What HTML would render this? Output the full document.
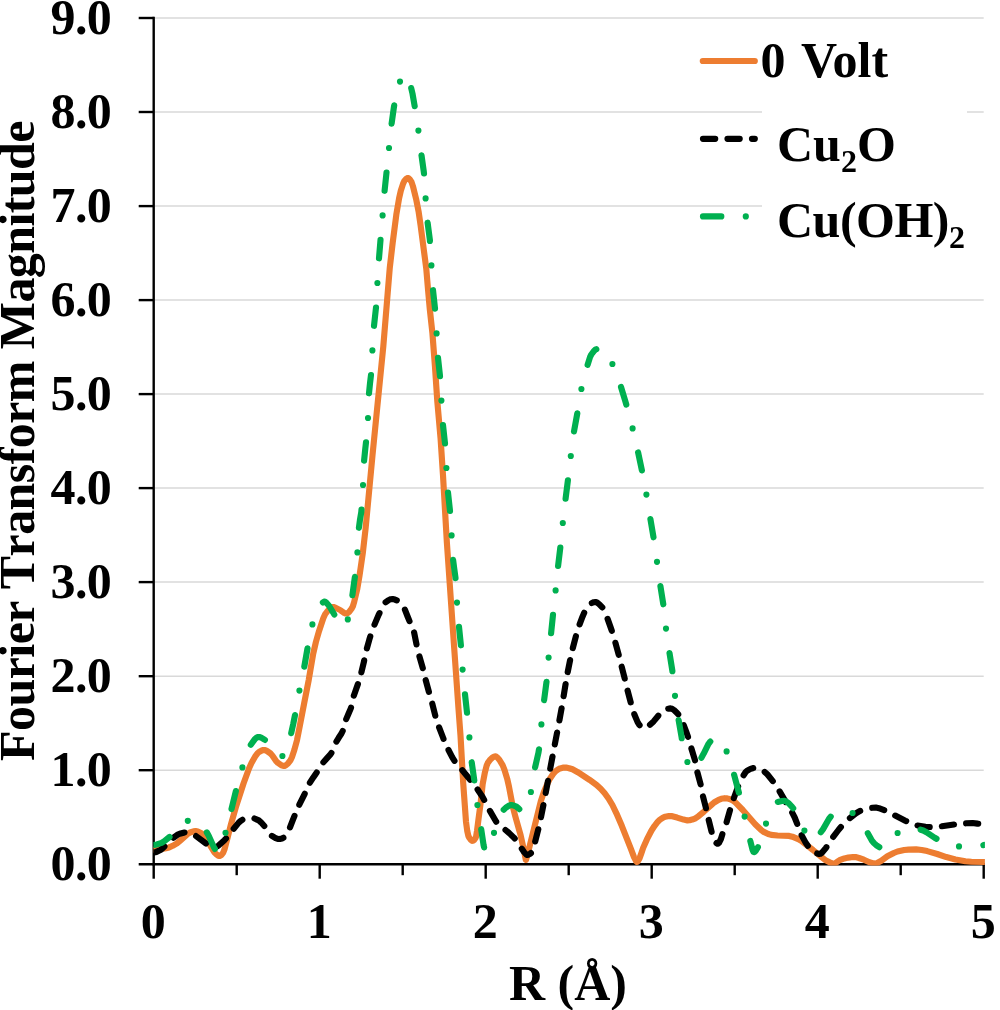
<!DOCTYPE html><html><head><meta charset="utf-8"><title>EXAFS Fourier Transform</title>
<style>html,body{margin:0;padding:0;background:#fff}svg{display:block}text{font-family:"Liberation Serif","DejaVu Serif",serif;font-weight:bold;fill:#000}</style></head><body>
<svg width="1000" height="1010" viewBox="0 0 1000 1010">
<rect width="1000" height="1010" fill="#fff"/>
<line x1="154.7" y1="770.2" x2="983.7" y2="770.2" stroke="#d9d9d9" stroke-width="1.5"/>
<line x1="154.7" y1="676.2" x2="983.7" y2="676.2" stroke="#d9d9d9" stroke-width="1.5"/>
<line x1="154.7" y1="582.1" x2="983.7" y2="582.1" stroke="#d9d9d9" stroke-width="1.5"/>
<line x1="154.7" y1="488.1" x2="983.7" y2="488.1" stroke="#d9d9d9" stroke-width="1.5"/>
<line x1="154.7" y1="394.1" x2="983.7" y2="394.1" stroke="#d9d9d9" stroke-width="1.5"/>
<line x1="154.7" y1="300.1" x2="983.7" y2="300.1" stroke="#d9d9d9" stroke-width="1.5"/>
<line x1="154.7" y1="206.1" x2="983.7" y2="206.1" stroke="#d9d9d9" stroke-width="1.5"/>
<line x1="154.7" y1="112.0" x2="983.7" y2="112.0" stroke="#d9d9d9" stroke-width="1.5"/>
<line x1="154.7" y1="18.0" x2="983.7" y2="18.0" stroke="#d9d9d9" stroke-width="1.5"/>
<line x1="153.7" y1="16.8" x2="153.7" y2="865.4" stroke="#000" stroke-width="2.4"/>
<line x1="138.7" y1="864.2" x2="984.9" y2="864.2" stroke="#000" stroke-width="2.4"/>
<line x1="138.7" y1="770.2" x2="153.7" y2="770.2" stroke="#000" stroke-width="2.4"/>
<line x1="138.7" y1="676.2" x2="153.7" y2="676.2" stroke="#000" stroke-width="2.4"/>
<line x1="138.7" y1="582.1" x2="153.7" y2="582.1" stroke="#000" stroke-width="2.4"/>
<line x1="138.7" y1="488.1" x2="153.7" y2="488.1" stroke="#000" stroke-width="2.4"/>
<line x1="138.7" y1="394.1" x2="153.7" y2="394.1" stroke="#000" stroke-width="2.4"/>
<line x1="138.7" y1="300.1" x2="153.7" y2="300.1" stroke="#000" stroke-width="2.4"/>
<line x1="138.7" y1="206.1" x2="153.7" y2="206.1" stroke="#000" stroke-width="2.4"/>
<line x1="138.7" y1="112.0" x2="153.7" y2="112.0" stroke="#000" stroke-width="2.4"/>
<line x1="138.7" y1="18.0" x2="153.7" y2="18.0" stroke="#000" stroke-width="2.4"/>
<line x1="153.7" y1="864.2" x2="153.7" y2="878.7" stroke="#000" stroke-width="2.4"/>
<line x1="236.7" y1="864.2" x2="236.7" y2="875.2" stroke="#000" stroke-width="2.4"/>
<line x1="319.7" y1="864.2" x2="319.7" y2="878.7" stroke="#000" stroke-width="2.4"/>
<line x1="402.7" y1="864.2" x2="402.7" y2="875.2" stroke="#000" stroke-width="2.4"/>
<line x1="485.7" y1="864.2" x2="485.7" y2="878.7" stroke="#000" stroke-width="2.4"/>
<line x1="568.7" y1="864.2" x2="568.7" y2="875.2" stroke="#000" stroke-width="2.4"/>
<line x1="651.7" y1="864.2" x2="651.7" y2="878.7" stroke="#000" stroke-width="2.4"/>
<line x1="734.7" y1="864.2" x2="734.7" y2="875.2" stroke="#000" stroke-width="2.4"/>
<line x1="817.7" y1="864.2" x2="817.7" y2="878.7" stroke="#000" stroke-width="2.4"/>
<line x1="900.7" y1="864.2" x2="900.7" y2="875.2" stroke="#000" stroke-width="2.4"/>
<line x1="983.7" y1="864.2" x2="983.7" y2="878.7" stroke="#000" stroke-width="2.4"/>
<clipPath id="plot"><rect x="153.4" y="0" width="831.5" height="865.6"/></clipPath>
<g clip-path="url(#plot)">
<path d="M153.7 849.7L158.9 849.4L166 848.2L169.1 847.4L172.7 845.8L176.9 843.4L180.5 840.3L188 833.7L190.1 832.5L193.5 831.3L195.5 831.1L197.8 831.6L201.5 833.3L203.3 834.8L206.4 838.5L208.7 842.7L211.2 847.2L214.4 852.3L216 854L218.3 855.7L219.5 856L220.2 855.8L221.5 854.9L223.2 852.7L224.4 849.7L227.4 838.5L231.1 823.8L236.3 805.7L243.6 783.2L249.1 768.2L251.6 762.8L255.6 755.8L257.5 753.3L259 752L261.8 750.5L263.4 750L265 750.1L266.8 750.9L270.4 753.4L272.3 755.5L276.4 761.4L277.8 762.8L281.4 765.3L283.3 765.9L284.5 766L285.9 765.3L287.7 763.7L290.5 760.3L292 757L294.4 749.8L297 740.2L300 724.9L304.1 703.7L308.7 680.1L313.2 653.7L315.9 642L319 631.2L323.3 618.3L325.1 614.3L327 611.7L329.6 608.7L331.2 607.5L332.3 607.1L333.5 607L335.4 607.6L340.7 610.4L344.3 613L345.4 613.5L346.5 613.5L347.6 613.1L349.2 611.8L351.6 608.6L352.8 606.5L354.2 601.9L357.3 588.7L359.5 575.7L362.8 553.1L365.6 528.5L372.5 455.2L383.3 346.5L387.7 293.1L389.8 267.6L392.7 242.6L396.3 214.8L399.1 198.3L400.8 190.8L403.1 183.6L404.5 180.7L405.8 179.2L407 178.3L407.8 178L408.6 178.2L409.7 179.2L411.5 181.9L412.9 186.1L416.1 198.9L418.7 212.2L420.7 226.1L426.3 268.9L428.2 291.6L429.8 309.1L432.4 333L435 366.9L437.3 401.2L440.6 438.7L443 475.4L446.9 542.9L453.9 643.9L458.6 710.1L460.5 735.6L463.2 783.1L466 821.8L467.3 831.3L468.4 836L469.3 837.8L470.7 839.7L471.6 840.5L472.4 840.8L473.1 840.7L474.1 840L475.5 838L476.1 836.6L477 831L478.5 819.1L480.6 803.3L482.7 783.8L484.9 772.4L486.6 765.8L487.8 762.9L490.4 759.4L492.5 757.4L493.9 756.7L495 756.4L496.2 756.6L497.5 757.6L499.5 760L502.6 765.1L504.4 769.6L507.2 778.8L508.9 786.2L512.7 806.2L515.2 815.9L520.6 835.2L523.7 849.2L525.8 859.8L526 859.9L527.3 855.2L529.5 846.7L541 800.6L543.8 792.2L547.2 784.1L549.9 778.7L553.3 773.7L555.4 771.4L558.3 769.2L560.1 768.4L563.6 767.6L566 767.5L569.1 768.2L572.5 769.3L577.8 772.2L589.5 779.8L596.6 785L600.7 788.8L604.7 793.3L608.5 798.5L612.4 805L616.4 813.3L621.8 825.8L630.9 848.8L634 857.1L636.2 861.3L636.7 861.9L637.1 862L637.7 861.5L639.5 858.4L641.4 853.1L643.2 847.8L646.9 839.4L651.5 830.5L654.6 825.8L657.8 821.7L659.8 819.8L663.1 817.6L665.3 816.7L668.9 816L671.3 816.1L677.1 817.6L683.6 819.6L687.5 820.4L689.5 820.3L692.2 819.6L695.5 818.3L698.5 816.2L703.7 811.8L711.7 804.6L714.1 802.5L718.6 799.8L721.2 798.8L724.7 798.2L727.1 798.4L730.2 799.3L733.1 800.6L735.6 802.6L742.8 810L755.2 824.2L761.2 830L763.8 831.9L768.2 834L771.2 834.9L777.6 835.5L789.2 835.9L792.3 836.7L798.2 839.1L801.3 840.9L813 850L821.9 857.4L825.4 860.1L829.6 862.3L832.2 863.4L834.2 863.6L835.3 863.2L837.6 861.6L839.6 860.2L844.4 858.4L848.3 857.6L853.1 857L855.5 857.1L859 858L863.9 859.7L869.4 862.2L873.6 863.4L875.2 863.6L876.7 863.2L881.3 860.8L887.4 856.3L893.8 853L897.5 851.5L904.2 850L908.5 849.6L916.1 849.4L921.7 850L927.2 851.1L937.2 854L946.3 857.1L955.5 859.5L965.4 861.2L971.4 861.7L984 862" fill="none" stroke="#ED7D31" stroke-width="6.15" stroke-linecap="round" stroke-linejoin="round"/>
<path d="M153.7 852.6L156.4 851.9L160.4 850L162.8 848.1L164.4 846.5M173.4 837.7L177.2 834.9L179.7 833.8L183.6 832.7L184.5 832.5M196.1 836.1L206 843.5M216.7 846.6L218.5 845.6L224.4 840.2L226 838.5M233.7 828.7L238.7 822.6L241 820.6L242.4 819.8M254.5 818.5L258.8 820.4L261 822.3L264.3 826M271.9 835.9L275.6 838.1L277.8 838.9L279.7 839L282 838.4L283.4 837.7M290 827.4L292.6 820.6L294.5 815.9M299.3 804.7L304.7 793.8M309.9 782.7L313.3 777.4L316.7 772.5M323.4 762.2L326.6 758.6L330 754.9L331.4 752.9M336.4 741.6L338.7 737.8L341.5 733.5L342.7 731M346.2 719.1L348.5 713.8L350.7 708.6L351 707.7M353.8 695.7L356 689.4L357.9 684.1M361.4 672.3L364 661.5L364.2 660.4M366.9 648.4L369.3 639.7L370.3 636.4M374.5 624.6L378.5 615.1L379.5 613.1M385.6 602.3L388.8 600L390.8 599.2L392.5 599L394.9 599.6L396.8 600.4M404.9 609.7L407.8 617L409.5 621.1M414.1 632.4L415.7 640.3L416.5 644.4M419.4 656.4L422.8 668.2M425.7 680.1L428.9 691.9M432.3 703.7L435.3 715.7M439.1 727.4L443.2 738L443.5 738.8M448.5 750L452.3 757.3L454.5 760.8M462.3 770.2L470.2 779.7M477.6 789.5L482.3 796.5L484.2 799.9M489.9 810.9L495.6 820.7L496.2 821.7M505.5 830L509.2 833.1L513.9 837.6L514.7 838.5M521.8 848.8L524 852L526.3 854.5L527.1 854.9L528.6 854.7L530 853.9L530.9 853.1M535.2 841.4L538.3 829.3M541 817.2L543.4 805.1M545.7 793L548 780.8M550.2 768.7L552.5 756.6M554.8 744.5L557.1 732.5M559.4 720.4L561.6 708.3M563.6 696.2L565.6 684.1M567.7 672.1L570.1 660.1M572.8 648.1L575.9 636.2M579.6 624.4L582.5 616.7L584.2 612.8M591.8 603L593.8 602.2L595.4 602L597 602.5L599.1 604.1L602.3 607.4M607.6 618.9L610.8 627.9L611.8 630.8M615.4 642.8L618.7 654.8M621.7 666.7L624.7 678.6M627.6 690.6L630.7 702.4M634.3 714.2L637.6 722.1L639.3 724.8L639.6 725.2M650 724.7L653.6 721.4L658.3 715.7M668.2 708.7L670.5 708.4L672.1 708.8L674 710L677.1 713L678.2 714.3M683.7 725.2L686.7 733.2L688 736.8M691.4 748.5L694.8 759.6L695 760.3M697.4 772.4L700.6 784.3M703 796.4L706 808.2M708.7 819.9L711.6 831.8M716.5 843.1L717.4 843.7L718.1 843.7L719 842.8L720.9 839L722.4 834.1M726.6 822.2L730 810.2M733.8 798.2L737.7 787.5L738.1 786.5M743.6 775.2L745.7 772L747.1 770.7L750.5 768.9L752.8 768.2L753.2 768.1M764.7 771.9L767.3 774.3L772.8 781.1M779.6 791.4L785.7 801.9L785.8 802.1M792.2 812.7L794.7 817.5L797.2 823.8M801.6 835.2L805.2 841.9L807.8 845.7M817.2 853.5L819.2 854L820.3 853.8L821.7 852.9L826.1 847.7L826.4 847.2M833.2 836.9L838.8 829.5L840.9 827M849.9 818.1L855.9 813.3L859.2 811.3L860.2 810.9M872.2 807.8L875.9 807.6L878.9 808.2L884.2 810.1M895.2 815.6L905.3 820.7L906.2 821.1M917.5 825.5L925.5 826.7L929.7 827M941.9 826.2L954 824.5M966.1 823.3L972.6 823L977.4 823.6L978.2 823.7" fill="none" stroke="#000" stroke-width="6.15" stroke-linecap="round" stroke-linejoin="round"/>
<path d="M153.7 845L156.8 844.4L161.6 842.8L164.4 841.1L169.5 837M187.8 820.8h0.01M206.8 832.4L208.7 835.7L213.9 847.2L214.9 848.9M225.5 832.8h0.01M231.5 809L235.9 791.1M242.4 767.4h0.01M250.8 744.8L254.5 739.6L256.4 737.8L257.8 737.1L259.2 737L261.2 737.7L264.5 739.6L264.9 739.9M282.4 756h0.01M291.2 733.2L293.3 723.7L295 715.1M299.4 690.6h0.01M304.3 666.6L307.5 648.4M312.4 624.4h0.01M322.9 602.5L324.1 601.6L324.9 601.6L326 602.3L329.2 606L334.3 614.5M347.8 619.4h0.01M352.4 595.2L354.7 578.2L354.9 576.9M357.4 552.4h0.01M358.9 527.8L359.9 520.3L361.3 511.9L361.5 509.6M363 485h0.01M364.1 460.6L365.3 448.6L366 442.3M368 418h0.01M369 393.3L370 383.4L371 375M372.4 350.4h0.01M374 325.8L376 307.5M377.4 283h0.01M379 258.3L380.5 239.9M382.6 215.4h0.01M384.6 190.8L386.5 172.5M389 148h0.01M391.6 123.6L393.9 107.3L394.2 105.4M400 81.6h0.01M411.2 88.1L412.5 93.6L414.7 106.2M418.4 130.6h0.01M421.5 155.3L423.7 171L424 173.5M425.6 198.4h0.01M427.6 222.7L429.9 240.1L429.9 241M431.4 265.4h0.01M433 290.2L435 308.6M436.6 333.4h0.01M438 357.8L440 376.2M441.4 400.6h0.01M443 425.1L445 443.5M446.4 468h0.01M448 492.5L450 510.9M451.6 535.4h0.01M453.1 559.9L454.2 568.4L455.4 577.1L455.5 578.1M457 602.6h0.01M459 626.9L460.9 645.3M462.6 669.6h0.01M465 694.3L467 712.7M469.4 737.4h0.01M471.7 762.2L474.3 780.4M477.4 805h0.01M481.2 829.2L483.6 845.2L484.1 847.4M494 832.8h0.01M503.7 809.7L505.9 807.6L509.4 805.4L510.9 805L513.1 805.3L515.9 806.3L518.1 808L519.3 809.2M530.9 792h0.01M535.1 767.3L538.4 752.9L539 749.3M541.4 724.4h0.01M544.1 700.1L546.5 681.8M548.6 657.6h0.01M551.1 633.2L553 614.8M555.6 590.4h0.01M558.1 565.9L560.3 547.6M562.8 523h0.01M565.6 498.7L567.9 480.3M570.8 456h0.01M574 431.5L577.3 413.4M581.4 389h0.01M587.6 364.9L590.1 356.9L591.3 354.5L593.7 351.3L595.5 349.6L596.3 349.2M612.4 364h0.01M621 387L625.3 401.1L626.3 404.6M632.6 428.4h0.01M638.1 452.4L641.9 470.4M646.4 494.6h0.01M650.4 519.1L653.5 537.3M657 561.8h0.01M660.4 586L663.3 604.3M666 628.6h0.01M669.5 653L672.4 670.9L672.4 671.2M675 695.8h0.01M678.6 720L681.7 737.8L681.7 738.2M687.4 762h0.01M701.4 757.7L703.7 753.6L708.1 744.6L709.9 742L710.3 741.6M726.6 751.4h0.01M734.1 774.8L738.9 792.6L738.9 792.6M744.6 816.6h0.01M750.3 841L752.6 850L753.5 851.9L754 852.2L754.8 851.9L756.1 850.3L757.9 847.2M766 823.6h0.01M777.8 801.9L781.8 801L784.5 800.8L786.2 801.4L788.3 802.9L791.6 806.4L793.2 808.2M804.4 830.6h0.01M820.8 832.3L823.1 829.1L828.9 819L830.7 816.7M852.6 813h0.01M867.8 833.2L872 840.7L873.9 843L876.9 845.7L879.3 847.2M897.6 833h0.01M920.6 829.7L923.2 830.5L926.5 832.3L934.7 837.8L936.5 838.8M959 846.4h0.01M983.4 845.2L984 845" fill="none" stroke="#00B050" stroke-width="6.15" stroke-linecap="round" stroke-linejoin="round"/>
</g>
<text x="111" y="879.7" font-size="50" text-anchor="end" letter-spacing="-0.7">0.0</text>
<text x="111" y="785.7" font-size="50" text-anchor="end" letter-spacing="-0.7">1.0</text>
<text x="111" y="691.7" font-size="50" text-anchor="end" letter-spacing="-0.7">2.0</text>
<text x="111" y="597.6" font-size="50" text-anchor="end" letter-spacing="-0.7">3.0</text>
<text x="111" y="503.6" font-size="50" text-anchor="end" letter-spacing="-0.7">4.0</text>
<text x="111" y="409.6" font-size="50" text-anchor="end" letter-spacing="-0.7">5.0</text>
<text x="111" y="315.6" font-size="50" text-anchor="end" letter-spacing="-0.7">6.0</text>
<text x="111" y="221.6" font-size="50" text-anchor="end" letter-spacing="-0.7">7.0</text>
<text x="111" y="127.5" font-size="50" text-anchor="end" letter-spacing="-0.7">8.0</text>
<text x="111" y="33.5" font-size="50" text-anchor="end" letter-spacing="-0.7">9.0</text>
<text x="153.2" y="937.5" font-size="50" text-anchor="middle">0</text>
<text x="319.2" y="937.5" font-size="50" text-anchor="middle">1</text>
<text x="485.2" y="937.5" font-size="50" text-anchor="middle">2</text>
<text x="651.2" y="937.5" font-size="50" text-anchor="middle">3</text>
<text x="817.2" y="937.5" font-size="50" text-anchor="middle">4</text>
<text x="983.2" y="937.5" font-size="50" text-anchor="middle">5</text>
<text x="568" y="1000" font-size="50" text-anchor="middle">R (Å)</text>
<text transform="translate(34,441) rotate(-90)" font-size="50" text-anchor="middle" letter-spacing="-0.58" style="font-kerning:none">Fourier Transform Magnitude</text>
<rect x="762" y="100" width="205" height="30" fill="#fff"/>
<rect x="762" y="190" width="225" height="30" fill="#fff"/>
<line x1="702.8" y1="61" x2="754.8" y2="61" stroke="#ED7D31" stroke-width="6.2" stroke-linecap="round"/>
<line x1="703" y1="138.8" x2="754.8" y2="138.8" stroke="#000" stroke-width="6.2" stroke-linecap="round" stroke-dasharray="12.2 12.3"/>
<line x1="703" y1="216.4" x2="754.8" y2="216.4" stroke="#00B050" stroke-width="6.2" stroke-linecap="round" stroke-dasharray="18.3 24.5 0.01 24.5"/>
<text x="760.5" y="76.5" font-size="50" word-spacing="4">0 Volt</text>
<text x="777" y="161" font-size="50">Cu<tspan font-size="32" dy="11">2</tspan><tspan dy="-11">O</tspan></text>
<text x="777" y="237.2" font-size="50" letter-spacing="-0.5">Cu(OH)<tspan font-size="32" dy="11">2</tspan></text>
</svg></body></html>
